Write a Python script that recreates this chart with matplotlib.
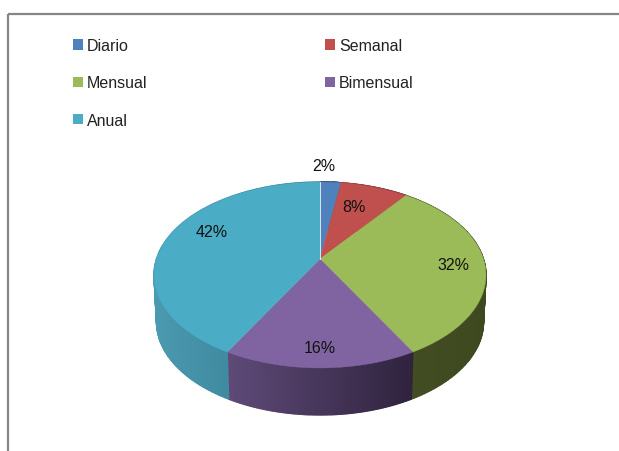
"""Torta 3D de frecuencias (Diario ... Anual), dibujada a mano con poligonos."""

import numpy as np
import matplotlib
matplotlib.use("Agg")
import matplotlib.pyplot as plt
from matplotlib.patches import Polygon, Patch, Rectangle

plt.rcParams["font.family"] = ["Liberation Sans", "DejaVu Sans"]

# datos
categorias = ["Diario", "Semanal", "Mensual", "Bimensual", "Anual"]
valores = [2.4, 7.8, 31.8, 16.0, 42.0]

# estilo
colores = ["#4f81bd", "#c0504d", "#9bbb59", "#8064a2", "#4bacc6"]
lado_izq = ["#3d5a80", "#8a3a38", "#424d22", "#5f4a78", "#4a9ab0"]
lado_der = ["#2f4663", "#6e2e2c", "#3e4920", "#2f233e", "#35778c"]
radio_etiqueta = [1.27, 0.69, 0.81, 0.84, 0.77]
giro_etiqueta = [-3, -3, 0, 0, 10]  # grados

# geometria en pixeles de la imagen
CX, CY = 320, 260
A, B, K = 163.5, 90.2, 0.172  # perspectiva del disco
PROFUNDIDAD = 47
ESCALA_BASE = 0.985


def proyectar(x, y):
    """Lleva el circulo unidad al disco visto en perspectiva."""
    w = 1 + K * y
    return CX + A * x / w, CY - B * y / w


def arco(t0, t1, n=80):
    """Puntos del borde entre dos angulos medidos desde arriba, en sentido horario."""
    t = np.linspace(t0, t1, n)
    return proyectar(np.sin(t), np.cos(t))


fig = plt.figure(figsize=(6.19, 4.52), dpi=100)
ax = fig.add_axes([0, 0, 1, 1])
ax.set_xlim(0, 619)
ax.set_ylim(452, 0)
ax.axis("off")

# marco gris, se sale por la derecha y por abajo
ax.add_patch(Rectangle((8, 15), 700, 500, fill=False, edgecolor="#868686", linewidth=1.6))

limites = 2 * np.pi * np.cumsum([0] + valores) / np.sum(valores)

# pared lateral: tiras verticales con degradado, solo la parte frontal
for i in range(len(valores)):
    t0, t1 = limites[i], limites[i + 1]
    px, py = arco(t0, t1, 120)
    c0 = np.array(matplotlib.colors.to_rgb(lado_izq[i]))
    c1 = np.array(matplotlib.colors.to_rgb(lado_der[i]))
    for j in range(len(px) - 1):
        # el degradado va de izquierda a derecha en pantalla
        f = (px[j] - px.min()) / max(px.max() - px.min(), 1)
        col = c0 + (c1 - c0) * f
        bx0 = CX + (px[j] - CX) * ESCALA_BASE
        bx1 = CX + (px[j + 1] - CX) * ESCALA_BASE
        tira = [(px[j], py[j]), (px[j + 1], py[j + 1]),
                (bx1, py[j + 1] + PROFUNDIDAD), (bx0, py[j] + PROFUNDIDAD)]
        ax.add_patch(Polygon(tira, closed=True, facecolor=col, edgecolor=col, linewidth=1.0))

# cara superior
for i in range(len(valores)):
    px, py = arco(limites[i], limites[i + 1])
    pts = np.column_stack([np.r_[CX, px], np.r_[CY, py]])
    ax.add_patch(Polygon(pts, closed=True, facecolor=colores[i], edgecolor=colores[i], linewidth=0.3))

# linea clara entre Anual y Diario
ax.plot([CX, CX], [CY, CY - B / (1 + K)], color="#dce6f1", linewidth=0.7)

# porcentajes
for i, v in enumerate(valores):
    t = (limites[i] + limites[i + 1]) / 2 + np.radians(giro_etiqueta[i])
    r = radio_etiqueta[i]
    lx, ly = proyectar(r * np.sin(t), r * np.cos(t))
    ax.text(lx, ly, f"{v:.0f}%", ha="center", va="center", fontsize=11.5, color="#111111")

# leyenda: matplotlib llena por columnas, de ahi el orden
orden = [0, 2, 4, 1, 3]
handles = [Patch(facecolor=colores[i], label=categorias[i]) for i in orden]
ax.legend(handles=handles, ncols=2, loc="upper left", bbox_to_anchor=(73 / 619, 1 - 39 / 452),
          frameon=False, fontsize=11.5, borderpad=0, borderaxespad=0,
          handlelength=0.62, handleheight=0.62, handletextpad=0.26,
          labelspacing=1.4, columnspacing=11.1, labelcolor="#222222")

fig.savefig("out.png", dpi=100)
